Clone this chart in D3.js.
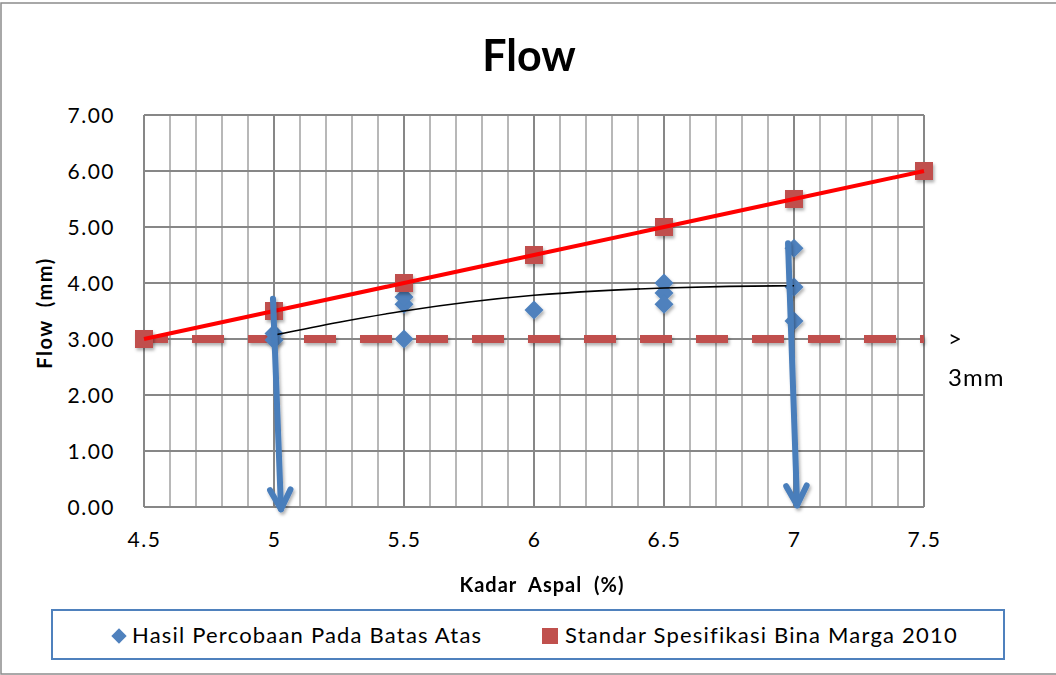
<!DOCTYPE html>
<meta charset="utf-8">
<style>
body { margin: 0; background: #fff; }
text { font-family: Lato, "Open Sans", sans-serif; fill: #000; }
</style>
<svg width="1056" height="675"></svg>
<script src="https://d3js.org/d3.v7.min.js"></script>
<script>

// kadar aspal (%) and the Bina Marga 2010 standard values
var kadar = [4.5, 5, 5.5, 6, 6.5, 7, 7.5];
var standar = [3.0, 3.5, 4.0, 4.5, 5.0, 5.5, 6.0];

// test results (batas atas)
var hasilX = [5, 5, 5.5, 5.5, 5.5, 6, 6.5, 6.5, 6.5, 7, 7, 7];
var hasilY = [2.98, 3.1, 3.0, 3.62, 3.75, 3.52, 4.0, 3.82, 3.62, 4.62, 3.93, 3.32];

// trend line
var trendX = [5, 5.25, 5.5, 5.75, 6, 6.25, 6.5, 6.75, 7];
var trendY = [3.07, 3.3, 3.5, 3.66, 3.78, 3.86, 3.91, 3.94, 3.95];

// minimum limit (> 3mm)
var batasX = [4.5, 7.5];
var batasY = [3.0, 3.0];

// arrows drawn on the chart (data units)
var arrows = [
  {x1: 4.996, y1: 3.72, x2: 5.027, y2: -0.04},
  {x1: 6.977, y1: 4.71, x2: 7.012, y2: 0.03}
];

var xTicks = [4.5, 5, 5.5, 6, 6.5, 7, 7.5];
var yTicks = [0, 1, 2, 3, 4, 5, 6, 7];

var svg = d3.select("svg"), width = +svg.attr("width"), height = +svg.attr("height");

var x = d3.scaleLinear().domain([4.5, 7.5]).range([144, 924]);
var y = d3.scaleLinear().domain([0, 7]).range([507, 115]);

var defs = svg.append("defs");
defs.append("filter").attr("id", "shadow").attr("filterUnits", "userSpaceOnUse")
  .attr("x", 0).attr("y", 0).attr("width", width).attr("height", height)
  .append("feDropShadow").attr("dx", 1.5).attr("dy", 2.5).attr("stdDeviation", 1.8)
  .attr("flood-color", "#000").attr("flood-opacity", 0.3);

// chart frame
svg.append("rect").attr("x", 1).attr("y", 3).attr("width", 1070).attr("height", 671)
  .attr("fill", "#fff").attr("stroke", "#8c8c8c").attr("stroke-width", 1.5);

// minor vertical gridlines every 0.1
var minor = d3.range(45, 76).map(function(d) { return d / 10; });
svg.append("g").selectAll("line").data(minor).enter().append("line")
  .attr("x1", function(d) { return x(d); }).attr("x2", function(d) { return x(d); })
  .attr("y1", y(7)).attr("y2", y(0))
  .attr("stroke", function(d) { return Math.abs(d * 2 - Math.round(d * 2)) < 1e-6 ? "#878787" : "#b8b8b8"; })
  .attr("stroke-width", 2);

svg.append("g").selectAll("line").data(yTicks).enter().append("line")
  .attr("x1", x(4.5)).attr("x2", x(7.5))
  .attr("y1", function(d) { return y(d); }).attr("y2", function(d) { return y(d); })
  .attr("stroke", "#878787").attr("stroke-width", 2);

// axes labels
svg.append("g").attr("transform", "translate(" + (x(4.5) - 26) + ",0)")
  .call(d3.axisLeft(y).tickValues(yTicks).tickFormat(d3.format(".2f")).tickSize(0))
  .call(function(g) { g.select(".domain").remove(); })
  .selectAll("text").attr("font-size", 21).attr("font-family", "Lato").attr("fill", "#000")
  .attr("letter-spacing", 1.5).attr("dy", "0.35em");

svg.append("g").attr("transform", "translate(0," + (y(0) + 30) + ")")
  .call(d3.axisBottom(x).tickValues(xTicks).tickFormat(function(d) { return String(d); }).tickSize(0))
  .call(function(g) { g.select(".domain").remove(); })
  .selectAll("text").attr("font-size", 21).attr("font-family", "Lato").attr("fill", "#000")
  .attr("letter-spacing", 1.5).attr("dy", "0.35em");

// dashed limit line
var line = d3.line().x(function(d) { return x(d[0]); }).y(function(d) { return y(d[1]); });
svg.append("path").datum(d3.zip(batasX, batasY)).attr("d", line)
  .attr("fill", "none").attr("stroke", "#c0504d").attr("stroke-width", 8)
  .attr("stroke-dasharray", "32 24").attr("stroke-dashoffset", 8)
  .attr("filter", "url(#shadow)");

// diamonds
var diamond = d3.symbol().type(d3.symbolDiamond2).size(230);
svg.append("g").attr("filter", "url(#shadow)")
  .selectAll("path").data(d3.zip(hasilX, hasilY)).enter().append("path")
  .attr("d", diamond)
  .attr("transform", function(d) { return "translate(" + x(d[0]) + "," + y(d[1]) + ")"; })
  .attr("fill", "#4f81bd");

// squares
svg.append("g").attr("filter", "url(#shadow)")
  .selectAll("rect").data(d3.zip(kadar, standar)).enter().append("rect")
  .attr("x", function(d) { return x(d[0]) - 9; }).attr("y", function(d) { return y(d[1]) - 9; })
  .attr("width", 18).attr("height", 18)
  .attr("fill", "#c0504d");

// standard line
svg.append("path").datum(d3.zip(kadar, standar)).attr("d", line)
  .attr("fill", "none").attr("stroke", "#ff0000").attr("stroke-width", 4);

// trend line
svg.append("path").datum(d3.zip(trendX, trendY))
  .attr("d", d3.line().x(function(d) { return x(d[0]); }).y(function(d) { return y(d[1]); }).curve(d3.curveMonotoneX))
  .attr("fill", "none").attr("stroke", "#000").attr("stroke-width", 1.6);

// arrows
var ag = svg.append("g").attr("filter", "url(#shadow)")
  .attr("stroke", "#4a7ebb").attr("stroke-width", 6).attr("fill", "none")
  .attr("stroke-linecap", "round").attr("stroke-linejoin", "round");
arrows.forEach(function(a) {
  var X1 = x(a.x1), Y1 = y(a.y1), X2 = x(a.x2), Y2 = y(a.y2);
  var ang = Math.atan2(Y2 - Y1, X2 - X1), len = 22, spread = Math.PI / 6.5;
  ag.append("line").attr("x1", X1).attr("y1", Y1).attr("x2", X2).attr("y2", Y2);
  ag.append("path").attr("d",
    "M" + (X2 - len * Math.cos(ang - spread)) + "," + (Y2 - len * Math.sin(ang - spread)) +
    "L" + X2 + "," + Y2 +
    "L" + (X2 - len * Math.cos(ang + spread)) + "," + (Y2 - len * Math.sin(ang + spread)));
});

// limit label
svg.append("text").attr("x", 948).attr("y", y(3) + 8).attr("font-size", 24).text(">");
svg.append("text").attr("x", 948).attr("y", y(3) + 47).attr("font-size", 24).attr("letter-spacing", 1).text("3mm");

// titles
svg.append("text").attr("x", 529).attr("y", 71).attr("text-anchor", "middle")
  .attr("font-size", 43).attr("font-weight", "bold").text("Flow");
svg.append("text").attr("x", 542).attr("y", 592).attr("text-anchor", "middle")
  .attr("font-size", 20).attr("font-weight", "bold").attr("letter-spacing", 1).attr("word-spacing", 6).text("Kadar Aspal (%)");
svg.append("text").attr("transform", "translate(52,313) rotate(-90)").attr("text-anchor", "middle")
  .attr("font-size", 20).attr("font-weight", "bold").attr("letter-spacing", 1.5).attr("word-spacing", 6).text("Flow (mm)");

// legend
svg.append("rect").attr("x", 52).attr("y", 610).attr("width", 952).attr("height", 49)
  .attr("fill", "none").attr("stroke", "#4f81bd").attr("stroke-width", 2);
svg.append("path").attr("d", d3.symbol().type(d3.symbolDiamond2).size(150))
  .attr("transform", "translate(119,636)").attr("fill", "#4f81bd");
svg.append("text").attr("x", 132).attr("y", 643).attr("font-size", 22).attr("letter-spacing", 1.2)
  .text("Hasil Percobaan Pada Batas Atas");
svg.append("rect").attr("x", 542).attr("y", 628).attr("width", 16).attr("height", 16).attr("fill", "#c0504d");
svg.append("text").attr("x", 565).attr("y", 643).attr("font-size", 22).attr("letter-spacing", 1.2)
  .text("Standar Spesifikasi Bina Marga 2010");

</script>
